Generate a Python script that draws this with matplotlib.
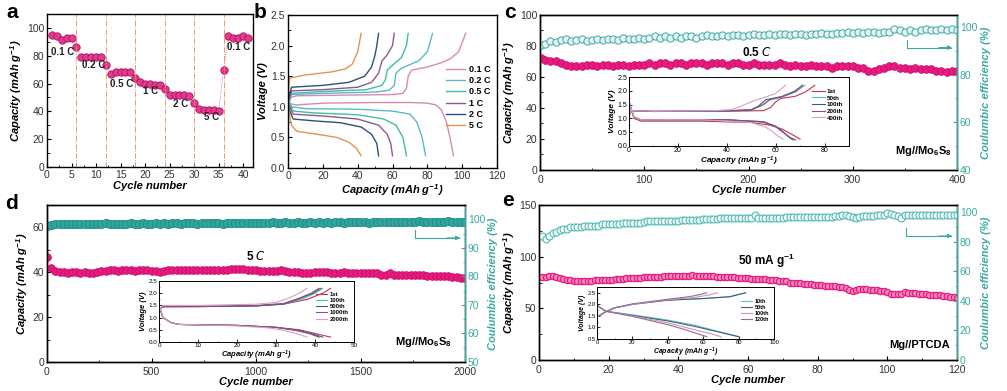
import matplotlib
matplotlib.use("Agg")
import matplotlib.pyplot as plt
from matplotlib.ticker import AutoMinorLocator
import numpy as np

plt.rcParams['font.family'] = ['Liberation Sans', 'DejaVu Sans']
plt.rcParams['mathtext.default'] = 'regular'
plt.rcParams['axes.linewidth'] = 1.0

PINK = '#E8197F'
PINK_E = '#C8106A'
TEAL = '#3AA9A1'
TICKC = '#333333'

# ---------------- panel a data ----------------
a_cycles = list(range(1, 42))
a_capacity = [95, 94, 91, 93, 93, 86, 79, 79, 79, 79, 79, 73, 67, 68, 68, 68, 68, 64,
              61, 60, 60, 59, 59, 56, 52, 52, 52, 52, 51, 46, 42, 41, 41, 41, 40, 70,
              94, 93, 93, 94, 93]
a_rate_lines = [6, 12, 18, 24, 30, 36]
a_labels = ['0.1 C', '0.2 C', '0.5 C', '1 C', '2 C', '5 C', '0.1 C']
a_label_x = [3.2, 9.5, 15.2, 21.2, 27.2, 33.5, 39.0]
a_label_y = [83, 73, 60, 55, 45, 36, 86]

# ---------------- panel b data ----------------
b_rates = ['0.1 C', '0.2 C', '0.5 C', '1 C', '2 C', '5 C']
b_colors = ['#D58CB0', '#5CB8D0', '#3FBF9F', '#8C5A8C', '#2D4F7C', '#E39450']
b_dis_cap = [
    [0, 1, 5, 20, 50, 70, 80, 85, 88, 91, 93, 95],
    [0, 2, 10, 40, 60, 70, 74, 77, 79],
    [0, 3, 15, 40, 55, 62, 66, 68],
    [0, 3, 20, 40, 52, 57, 59, 60],
    [0, 3, 15, 30, 42, 48, 51, 52],
    [0, 2, 5, 15, 28, 35, 39, 42],
]
b_dis_v = [
    [1.2, 1.05, 1.03, 1.06, 1.07, 1.07, 1.06, 1.03, 0.95, 0.75, 0.5, 0.2],
    [1.15, 1.0, 0.97, 0.96, 0.93, 0.88, 0.75, 0.5, 0.2],
    [1.1, 0.93, 0.9, 0.87, 0.8, 0.7, 0.5, 0.2],
    [1.05, 0.88, 0.85, 0.8, 0.7, 0.55, 0.4, 0.2],
    [1.0, 0.8, 0.77, 0.74, 0.67, 0.55, 0.4, 0.2],
    [1.0, 0.7, 0.6, 0.56, 0.5, 0.42, 0.33, 0.2],
]
b_chg_cap = [
    [0, 1, 5, 30, 60, 66, 68, 69, 71, 80, 88, 93, 98, 100, 102],
    [0, 2, 20, 50, 58, 61, 62, 65, 75, 80, 83],
    [0, 2, 20, 45, 54, 56, 57, 60, 65, 68, 69],
    [0, 2, 20, 40, 48, 52, 54, 57, 60, 61],
    [0, 2, 20, 35, 44, 48, 50, 51, 52],
    [0, 1, 10, 25, 33, 37, 40, 42],
]
b_chg_v = [
    [0.9, 1.15, 1.18, 1.19, 1.2, 1.22, 1.3, 1.5, 1.6, 1.65, 1.72, 1.78, 1.9, 2.05, 2.2],
    [1.0, 1.2, 1.22, 1.24, 1.27, 1.35, 1.55, 1.63, 1.75, 1.9, 2.2],
    [1.1, 1.22, 1.25, 1.28, 1.35, 1.45, 1.6, 1.68, 1.8, 2.0, 2.2],
    [1.05, 1.26, 1.28, 1.32, 1.4, 1.55, 1.75, 1.85, 2.0, 2.2],
    [1.1, 1.32, 1.35, 1.4, 1.5, 1.65, 1.85, 2.0, 2.2],
    [1.2, 1.47, 1.52, 1.57, 1.62, 1.7, 1.9, 2.2],
]

# ---------------- panel c data ----------------
c_cycles = [1] + list(range(5, 401, 5))
c_capacity = [72, 71, 70, 70, 69, 68, 67, 67, 67, 68, 68, 67, 68, 68, 67, 68, 68, 67, 68, 68,
              68, 69, 68, 69, 69, 68, 69, 69, 68, 69, 69, 69, 68, 69, 69, 69, 68, 69, 69, 68,
              68, 69, 68, 68, 68, 68, 69, 68, 67, 68, 67, 67, 68, 67, 67, 67, 66, 67, 67, 67,
              67, 66, 66, 64, 64, 65, 66, 67, 67, 66, 66, 65, 66, 65, 65, 65, 64, 64, 63, 64, 64]
c_ce = [92.5, 93, 94, 93.5, 94.5, 95, 94, 94.5, 95, 94, 94.5, 95, 94.5, 95, 95, 94.5, 95.5, 95,
        95, 95.5, 95, 95.5, 96, 95.5, 96, 95.5, 96, 95.5, 96, 96, 95.5, 96, 96.5, 96, 96, 96.5,
        96, 96.5, 96.5, 96, 96.5, 97, 96.5, 96.5, 97, 96.5, 97, 97, 96.5, 97, 97, 96.5, 97, 97,
        97.5, 97, 97, 97.5, 97.5, 98, 97.5, 98, 97.5, 98, 98, 97.5, 98, 98, 99, 98.5, 98, 98.5,
        98, 98.5, 99, 98.5, 98.5, 99, 98.5, 99, 98.5]
ci_labels = ['1st', '50th', '100th', '200th', '400th']
ci_colors = ['#C0354A', '#4CC0B8', '#3A5A8A', '#9A4A80', '#D8A0C0']
ci_chg_cap = [
    [0, 1, 10, 40, 55, 58, 60, 62, 68, 72, 76],
    [0, 1, 10, 40, 50, 54, 57, 62, 68, 72],
    [0, 1, 10, 40, 50, 53, 56, 62, 68, 71],
    [0, 1, 10, 40, 50, 55, 58, 63, 68, 71],
    [0, 1, 10, 35, 42, 46, 50, 55, 60, 64],
]
ci_chg_v = [
    [1.1, 1.28, 1.25, 1.26, 1.28, 1.4, 1.6, 1.72, 1.8, 1.95, 2.2],
    [1.1, 1.28, 1.25, 1.27, 1.3, 1.45, 1.65, 1.75, 1.95, 2.2],
    [1.1, 1.28, 1.25, 1.27, 1.3, 1.45, 1.68, 1.78, 1.98, 2.2],
    [1.1, 1.28, 1.26, 1.28, 1.32, 1.5, 1.7, 1.8, 2.0, 2.2],
    [1.1, 1.28, 1.26, 1.28, 1.32, 1.45, 1.6, 1.75, 1.9, 2.2],
]
ci_dis_cap = [
    [0, 2, 5, 30, 50, 58, 63, 66, 70],
    [0, 2, 5, 40, 55, 60, 63, 66, 68],
    [0, 2, 5, 40, 55, 60, 63, 65, 67],
    [0, 2, 5, 40, 55, 60, 63, 66, 68],
    [0, 2, 5, 30, 50, 56, 59, 61, 63],
]
ci_dis_v = [
    [1.6, 1.0, 0.9, 0.9, 0.85, 0.75, 0.6, 0.45, 0.25],
    [1.6, 1.05, 0.95, 0.95, 0.88, 0.7, 0.5, 0.3, 0.22],
    [1.6, 1.05, 0.95, 0.95, 0.88, 0.72, 0.52, 0.35, 0.22],
    [1.6, 1.05, 0.95, 0.95, 0.86, 0.7, 0.5, 0.3, 0.22],
    [1.6, 1.05, 0.95, 0.95, 0.85, 0.68, 0.5, 0.35, 0.25],
]

# ---------------- panel d data ----------------
d_cycles = [1] + list(range(20, 2001, 20))
d_capacity = [47, 42, 40.5, 40, 40, 39.5, 40, 40, 39.5, 40, 39.5, 39.5, 40, 40.5, 40.5, 41, 41,
              40.5, 41, 41, 41, 40.5, 41, 41, 41, 40.5, 40.5, 40, 40.5, 41, 41, 41, 41, 41, 41,
              41, 41, 41, 41, 41, 41, 41, 41, 41, 41.5, 41.5, 41.5, 41.5, 41, 41, 41, 40.5, 40.5,
              40.5, 40.5, 40.5, 41, 40.5, 40, 40, 40, 39.5, 39.5, 39.5, 40, 40, 40, 40, 39.5, 39.5,
              39.5, 40, 39.5, 39.5, 39.5, 39.5, 39.5, 39.5, 39.5, 39.5, 39, 39, 39.5, 39, 39, 39,
              39, 39, 39, 39, 39, 38.5, 38.5, 38.5, 38.5, 38.5, 38.5, 38, 38, 37.5, 37.5]
d_ce = [97.5, 98, 98.2, 98.4, 98.2, 98.4, 98.3, 98.5, 98.3, 98.4, 98.2, 98.4, 98.5, 98.3, 98.6,
        98.4, 98.5, 98.3, 98.5, 98.4, 98.6, 98.4, 98.5, 98.6, 98.4, 98.5, 98.7, 98.5, 98.6, 98.4,
        98.6, 98.7, 98.5, 98.6, 98.8, 98.6, 98.5, 98.7, 98.6, 98.8, 98.6, 98.7, 98.5, 98.8, 98.7,
        98.6, 98.8, 98.7, 98.6, 98.8, 98.7, 98.8, 98.6, 98.8, 98.9, 98.7, 98.8, 98.9, 98.7, 98.8,
        98.9, 98.8, 98.7, 98.9, 98.8, 99.0, 98.8, 98.9, 98.8, 99.0, 98.9, 98.8, 99.0, 98.9, 99.1,
        98.9, 99.0, 98.8, 99.0, 99.1, 98.9, 99.0, 99.2, 99.0, 99.1, 98.9, 99.2, 99.0, 99.1, 99.3,
        99.0, 99.1, 99.2, 99.0, 99.2, 99.1, 99.3, 99.1, 99.2, 99.0, 99.2]
di_labels = ['1st', '100th', '500th', '1000th', '2000th']
di_colors = ['#C0354A', '#4CC0B8', '#3A5A8A', '#9A4A80', '#D8A0C0']
di_chg_cap = [
    [0, 1, 10, 25, 32, 38, 42, 44],
    [0, 1, 10, 25, 32, 37, 40, 42],
    [0, 1, 10, 25, 32, 36, 39.5, 41.5],
    [0, 1, 10, 25, 32, 36, 39, 41],
    [0, 1, 10, 25, 30, 34, 36.5, 38],
]
di_chg_v = [
    [1.3, 1.45, 1.45, 1.48, 1.55, 1.75, 2.0, 2.2],
    [1.3, 1.45, 1.45, 1.48, 1.56, 1.78, 2.0, 2.2],
    [1.3, 1.45, 1.45, 1.48, 1.56, 1.78, 2.0, 2.2],
    [1.3, 1.45, 1.46, 1.5, 1.58, 1.8, 2.0, 2.2],
    [1.3, 1.5, 1.5, 1.55, 1.62, 1.85, 2.05, 2.2],
]
di_dis_cap = [
    [0, 1, 3, 5, 20, 30, 36, 40, 44],
    [0, 1, 3, 5, 20, 30, 35, 38.5, 41],
    [0, 1, 3, 5, 20, 30, 35, 39, 42],
    [0, 1, 3, 5, 20, 30, 35, 38.5, 41],
    [0, 1, 3, 5, 20, 28, 32, 35.5, 38],
]
di_dis_v = [
    [1.5, 1.0, 0.8, 0.72, 0.68, 0.6, 0.5, 0.35, 0.2],
    [1.5, 1.0, 0.8, 0.72, 0.68, 0.6, 0.48, 0.35, 0.2],
    [1.5, 1.0, 0.8, 0.72, 0.68, 0.6, 0.5, 0.35, 0.2],
    [1.5, 1.0, 0.8, 0.72, 0.68, 0.6, 0.48, 0.35, 0.2],
    [1.5, 1.0, 0.8, 0.72, 0.66, 0.58, 0.48, 0.33, 0.2],
]

# ---------------- panel e data ----------------
e_cycles = list(range(1, 121))
e_capacity = [80, 80, 81, 81, 80, 79, 78, 77, 77, 76, 76, 76, 76, 76, 76, 77, 77, 77, 77, 77,
              77, 78, 78, 78, 79, 79, 79, 79, 79, 80, 80, 80, 80, 80, 80, 81, 81, 81, 81, 81,
              81, 81, 81, 82, 81, 81, 81, 81, 81, 81, 80, 80, 80, 80, 80, 80, 79, 79, 79, 79,
              78, 78, 78, 78, 78, 77, 77, 77, 76, 76, 76, 75, 75, 75, 75, 74, 74, 74, 73, 73,
              73, 72, 72, 72, 72, 71, 71, 70, 68, 67, 68, 69, 69, 69, 68, 68, 68, 67, 67, 66,
              64, 64, 64, 64, 66, 65, 65, 65, 64, 64, 64, 63, 63, 63, 63, 62, 62, 61, 61, 60]
e_ce = [84, 82, 84, 86, 87, 88, 89, 89, 90, 90, 90, 90, 91, 91, 91, 91, 91, 92, 92, 92,
        92, 92, 92, 93, 93, 93, 93, 93, 93, 93.5, 94, 94, 94, 94, 94, 94, 94, 94.5, 94.5, 94.5,
        95, 95, 95, 95, 95, 95, 95.5, 95.5, 95.5, 95.5, 95.5, 96, 96, 96, 96, 96, 96, 96, 96.5, 96.5,
        96.5, 98.5, 96, 96.5, 96.5, 96.5, 96.5, 96.5, 96.5, 96.5, 97, 97, 97, 97, 97, 97, 97, 97, 97, 97,
        97, 97, 97, 97, 97.5, 97.5, 98, 98.5, 97.5, 97, 96.5, 97, 97.5, 97.5, 97.5, 97.5, 98, 98, 98.5, 99.5,
        99, 98, 97.5, 96.5, 98.5, 98.5, 98.5, 98.5, 98.5, 98.5, 98.5, 98.5, 98.5, 98.5, 98.5, 98.5, 98.5, 98.5, 98.5, 98.5]
ei_labels = ['10th', '50th', '100th', '120th']
ei_colors = ['#5CC8C0', '#4A5A7A', '#C89AB0', '#9A6A9A']
ei_chg_cap = [
    [0, 5, 10, 20, 40, 60, 75, 84],
    [0, 5, 10, 20, 40, 60, 75, 84],
    [0, 5, 10, 20, 40, 55, 63, 68],
    [0, 5, 10, 20, 40, 52, 58, 62],
]
ei_chg_v = [
    [1.45, 1.68, 1.85, 2.0, 2.18, 2.25, 2.33, 2.5],
    [1.45, 1.68, 1.85, 2.0, 2.18, 2.25, 2.33, 2.5],
    [1.45, 1.68, 1.85, 2.0, 2.2, 2.3, 2.4, 2.5],
    [1.45, 1.68, 1.85, 2.02, 2.22, 2.33, 2.42, 2.5],
]
ei_dis_cap = [
    [0, 5, 20, 40, 55, 70, 80],
    [0, 5, 20, 40, 55, 70, 80],
    [0, 5, 20, 40, 55, 65, 70],
    [0, 5, 20, 40, 50, 57, 62],
]
ei_dis_v = [
    [1.95, 1.7, 1.55, 1.32, 1.1, 0.8, 0.6],
    [1.95, 1.7, 1.52, 1.28, 1.05, 0.78, 0.6],
    [1.95, 1.7, 1.5, 1.2, 0.9, 0.72, 0.6],
    [1.95, 1.7, 1.48, 1.12, 0.9, 0.72, 0.6],
]

# ---------------- helpers ----------------
LBL = dict(fontsize=8, fontweight='bold', fontstyle='italic')


def style_ax(ax, size=7.5, minor=True, xpad=2):
    ax.tick_params(direction='in', labelsize=size, colors='black', labelcolor=TICKC,
                   length=3, width=0.8, pad=2)
    ax.tick_params(axis='x', pad=xpad)
    ax.tick_params(which='minor', direction='in', length=1.8, width=0.6)
    if minor:
        ax.xaxis.set_minor_locator(AutoMinorLocator(2))
        ax.yaxis.set_minor_locator(AutoMinorLocator(2))


def style_right(ax2, size=7.5):
    ax2.tick_params(direction='in', labelsize=size, colors=TEAL, labelcolor=TEAL, length=3,
                    width=0.8, pad=2)
    ax2.tick_params(which='minor', direction='in', length=1.8, width=0.6, colors=TEAL)
    ax2.yaxis.set_minor_locator(AutoMinorLocator(2))
    ax2.spines['right'].set_color(TEAL)


def inset_curves(ax, chg_cap, chg_v, dis_cap, dis_v, labels, colors, lw=0.8):
    for i in range(len(labels)):
        ax.plot(chg_cap[i], chg_v[i], color=colors[i], lw=lw, label=labels[i])
        ax.plot(dis_cap[i], dis_v[i], color=colors[i], lw=lw)


W, H = 1007, 391
fig = plt.figure(figsize=(W / 100, H / 100), dpi=100)


def box(l, r, t, b):
    return [l / W, 1 - b / H, (r - l) / W, (b - t) / H]


# ---------------- panel a ----------------
axa = fig.add_axes(box(47, 253, 14, 167))
axa.plot(a_cycles, a_capacity, color=PINK, lw=0.5, ls=':', marker='o', ms=5.3,
         mfc='#E23A8E', mec='#B0105A', mew=0.6)
for x in a_rate_lines:
    axa.axvline(x, color='#E08A5A', lw=0.6, ls='-.')
for t, x, y in zip(a_labels, a_label_x, a_label_y):
    axa.text(x, y, t, fontsize=7, fontweight='bold', ha='center', va='center', color='#222222')
axa.set_xlim(0, 42)
axa.set_ylim(0, 110)
axa.set_xticks(range(0, 41, 5))
axa.set_yticks(range(0, 101, 20))
style_ax(axa)
axa.set_xlabel('Cycle number', labelpad=1, **LBL)
axa.set_ylabel('Capacity (mAh g$^{-1}$)', labelpad=2, **LBL)

# ---------------- panel b ----------------
axb = fig.add_axes(box(288, 497, 15, 168))
for i in range(len(b_rates)):
    axb.plot(b_chg_cap[i], b_chg_v[i], color=b_colors[i], lw=1.0, label=b_rates[i])
    axb.plot(b_dis_cap[i], b_dis_v[i], color=b_colors[i], lw=1.0)
axb.set_xlim(0, 120)
axb.set_ylim(0, 2.5)
axb.set_xticks(range(0, 121, 20))
axb.set_yticks(np.arange(0, 2.51, 0.5))
style_ax(axb)
axb.set_xlabel('Capacity (mAh g$^{-1}$)', labelpad=1, **LBL)
axb.set_ylabel('Voltage (V)', labelpad=2, **LBL)
leg = axb.legend(loc='center right', bbox_to_anchor=(1.0, 0.46), frameon=False, fontsize=6.5,
                 handlelength=2.2, handletextpad=0.4, labelspacing=0.25, borderaxespad=0.3)
for txt in leg.get_texts():
    txt.set_fontweight('bold')

# ---------------- panel c ----------------
axc = fig.add_axes(box(540, 957, 15, 170))
axc2 = axc.twinx()
axc.plot(c_cycles, c_capacity, ls='none', marker='o', ms=5.5, mfc=PINK, mec=PINK_E, mew=0.6, zorder=3)
axc2.plot(c_cycles, c_ce, ls='none', marker='o', ms=5.2, mfc='#E6F5F3', mec=TEAL, mew=0.7)
axc.set_xlim(0, 400)
axc.set_ylim(0, 100)
axc2.set_ylim(40, 105)
axc.set_xticks(range(0, 401, 100))
axc.set_yticks(range(0, 101, 20))
axc2.set_yticks([40, 60, 80, 100])
style_ax(axc, xpad=3.5)
style_right(axc2)
axc.set_xlabel('Cycle number', labelpad=0, **LBL)
axc.set_ylabel('Capacity (mAh g$^{-1}$)', labelpad=2, **LBL)
axc2.set_ylabel('Coulumbic efficiency (%)', color=TEAL, labelpad=3, **LBL)
axc.text(0.52, 0.76, '0.5 $\\it{C}$', transform=axc.transAxes, fontsize=8.5, fontweight='bold',
         ha='center', va='center')
axc.text(0.92, 0.12, 'Mg//Mo$_6$S$_8$', transform=axc.transAxes, fontsize=8, fontweight='bold',
         ha='center', va='center')
axc.plot([0.88, 0.88, 0.985], [0.84, 0.79, 0.79], transform=axc.transAxes, color=TEAL, lw=0.8)
axc.annotate('', xy=(0.995, 0.79), xytext=(0.95, 0.79), xycoords='axes fraction',
             arrowprops=dict(arrowstyle='-|>', color=TEAL, lw=0.8, mutation_scale=6))

axci = fig.add_axes(box(629, 849, 77, 146))
inset_curves(axci, ci_chg_cap, ci_chg_v, ci_dis_cap, ci_dis_v, ci_labels, ci_colors)
axci.set_xlim(0, 90)
axci.set_ylim(0, 2.5)
axci.set_xticks(range(0, 81, 20))
axci.set_yticks(np.arange(0, 2.51, 0.5))
axci.tick_params(direction='in', labelsize=5, length=2, width=0.6, pad=1)
axci.tick_params(which='minor', direction='in', length=1, width=0.4)
axci.xaxis.set_minor_locator(AutoMinorLocator(2))
axci.yaxis.set_minor_locator(AutoMinorLocator(2))
for s in axci.spines.values():
    s.set_linewidth(0.7)
axci.set_xlabel('Capacity (mAh g$^{-1}$)', fontsize=6, fontweight='bold', fontstyle='italic', labelpad=0)
axci.set_ylabel('Voltage (V)', fontsize=6, fontweight='bold', fontstyle='italic', labelpad=1)
lg = axci.legend(loc='center right', bbox_to_anchor=(1.0, 0.6), frameon=False, fontsize=4.5,
                 handlelength=2.0, handletextpad=0.4, labelspacing=0.2)
for txt in lg.get_texts():
    txt.set_fontweight('bold')

# ---------------- panel d ----------------
axd = fig.add_axes(box(47, 465, 205, 362))
axd2 = axd.twinx()
axd.plot(d_cycles, d_capacity, ls='none', marker='o', ms=5.5, mfc=PINK, mec=PINK_E, mew=0.6, zorder=3)
axd2.plot(d_cycles, d_ce, ls='none', marker='o', ms=6, mfc='#2FA59C', mec='#1F8C84', mew=0.6)
axd.set_xlim(0, 2000)
axd.set_ylim(0, 70)
axd2.set_ylim(50, 105)
axd.set_xticks(range(0, 2001, 500))
axd.set_yticks(range(0, 61, 20))
axd2.set_yticks(range(50, 101, 10))
style_ax(axd, xpad=3.5)
style_right(axd2)
axd.set_xlabel('Cycle number', labelpad=0, **LBL)
axd.set_ylabel('Capacity (mAh g$^{-1}$)', labelpad=2, **LBL)
axd2.set_ylabel('Coulumbic efficiency (%)', color=TEAL, labelpad=2, **LBL)
axd.text(0.5, 0.67, '5 $\\it{C}$', transform=axd.transAxes, fontsize=8.5, fontweight='bold',
         ha='center', va='center')
axd.text(0.9, 0.13, 'Mg//Mo$_6$S$_8$', transform=axd.transAxes, fontsize=8, fontweight='bold',
         ha='center', va='center')
axd.plot([0.88, 0.88, 0.985], [0.84, 0.79, 0.79], transform=axd.transAxes, color=TEAL, lw=0.8)
axd.annotate('', xy=(0.995, 0.79), xytext=(0.95, 0.79), xycoords='axes fraction',
             arrowprops=dict(arrowstyle='-|>', color=TEAL, lw=0.8, mutation_scale=6))

axdi = fig.add_axes(box(159, 354, 281, 342))
inset_curves(axdi, di_chg_cap, di_chg_v, di_dis_cap, di_dis_v, di_labels, di_colors)
axdi.set_xlim(0, 50)
axdi.set_ylim(0, 2.5)
axdi.set_xticks(range(0, 51, 10))
axdi.set_yticks(np.arange(0, 2.51, 0.5))
axdi.tick_params(direction='in', labelsize=4.5, length=2, width=0.6, pad=1)
axdi.tick_params(which='minor', direction='in', length=1, width=0.4)
axdi.xaxis.set_minor_locator(AutoMinorLocator(2))
axdi.yaxis.set_minor_locator(AutoMinorLocator(2))
for s in axdi.spines.values():
    s.set_linewidth(0.7)
axdi.set_xlabel('Capacity (mAh g$^{-1}$)', fontsize=5.5, fontweight='bold', fontstyle='italic', labelpad=0)
axdi.set_ylabel('Voltage (V)', fontsize=5.5, fontweight='bold', fontstyle='italic', labelpad=1)
lg = axdi.legend(loc='center right', bbox_to_anchor=(1.0, 0.58), frameon=False, fontsize=4.2,
                 handlelength=2.0, handletextpad=0.4, labelspacing=0.2)
for txt in lg.get_texts():
    txt.set_fontweight('bold')

# ---------------- panel e ----------------
axe = fig.add_axes(box(539, 957, 205, 360))
axe2 = axe.twinx()
axe.plot(e_cycles, e_capacity, ls='none', marker='o', ms=4.5, mfc='#F28CC0', mec=PINK, mew=0.9, zorder=3)
axe2.plot(e_cycles, e_ce, ls='none', marker='o', ms=5, mfc='white', mec='#4DBAB2', mew=0.8)
axe.set_xlim(0, 120)
axe.set_ylim(0, 150)
axe2.set_ylim(0, 105)
axe.set_xticks(range(0, 121, 20))
axe.set_yticks(range(0, 151, 50))
axe2.set_yticks(range(0, 101, 20))
style_ax(axe, xpad=3.5)
style_right(axe2)
axe.set_xlabel('Cycle number', labelpad=0, **LBL)
axe.set_ylabel('Capacity (mAh g$^{-1}$)', labelpad=1, **LBL)
axe2.set_ylabel('Coulumbic efficiency (%)', color=TEAL, labelpad=3, **LBL)
axe.text(0.545, 0.64, '50 mA g$^{-1}$', transform=axe.transAxes, fontsize=8.5, fontweight='bold',
         ha='center', va='center')
axe.text(0.91, 0.1, 'Mg//PTCDA', transform=axe.transAxes, fontsize=8, fontweight='bold',
         ha='center', va='center')
axe.plot([0.878, 0.878, 0.985], [0.85, 0.8, 0.8], transform=axe.transAxes, color=TEAL, lw=0.8)
axe.annotate('', xy=(0.995, 0.8), xytext=(0.95, 0.8), xycoords='axes fraction',
             arrowprops=dict(arrowstyle='-|>', color=TEAL, lw=0.8, mutation_scale=6))

axei = fig.add_axes(box(597, 774, 287, 339))
inset_curves(axei, ei_chg_cap, ei_chg_v, ei_dis_cap, ei_dis_v, ei_labels, ei_colors)
axei.set_xlim(0, 100)
axei.set_ylim(0.5, 2.75)
axei.set_xticks(range(0, 101, 20))
axei.set_yticks(np.arange(0.5, 2.51, 0.5))
axei.tick_params(direction='in', labelsize=4.2, length=2, width=0.6, pad=1)
axei.tick_params(which='minor', direction='in', length=1, width=0.4)
axei.xaxis.set_minor_locator(AutoMinorLocator(2))
axei.yaxis.set_minor_locator(AutoMinorLocator(2))
for s in axei.spines.values():
    s.set_linewidth(0.7)
axei.set_xlabel('Capacity (mAh g$^{-1}$)', fontsize=5, fontweight='bold', fontstyle='italic', labelpad=0)
axei.set_ylabel('Voltage (V)', fontsize=5, fontweight='bold', fontstyle='italic', labelpad=1)
lg = axei.legend(loc='center right', bbox_to_anchor=(1.0, 0.55), frameon=False, fontsize=4,
                 handlelength=2.0, handletextpad=0.4, labelspacing=0.2)
for txt in lg.get_texts():
    txt.set_fontweight('bold')

# ---------------- panel letters ----------------
for lt, x, y in [('a', 6, 13), ('b', 254, 13), ('c', 504, 13), ('d', 5, 203), ('e', 502, 201)]:
    fig.text(x / W, 1 - y / H, lt, fontsize=15, fontweight='bold', ha='left', va='center')

fig.savefig('out.png', dpi=100)
